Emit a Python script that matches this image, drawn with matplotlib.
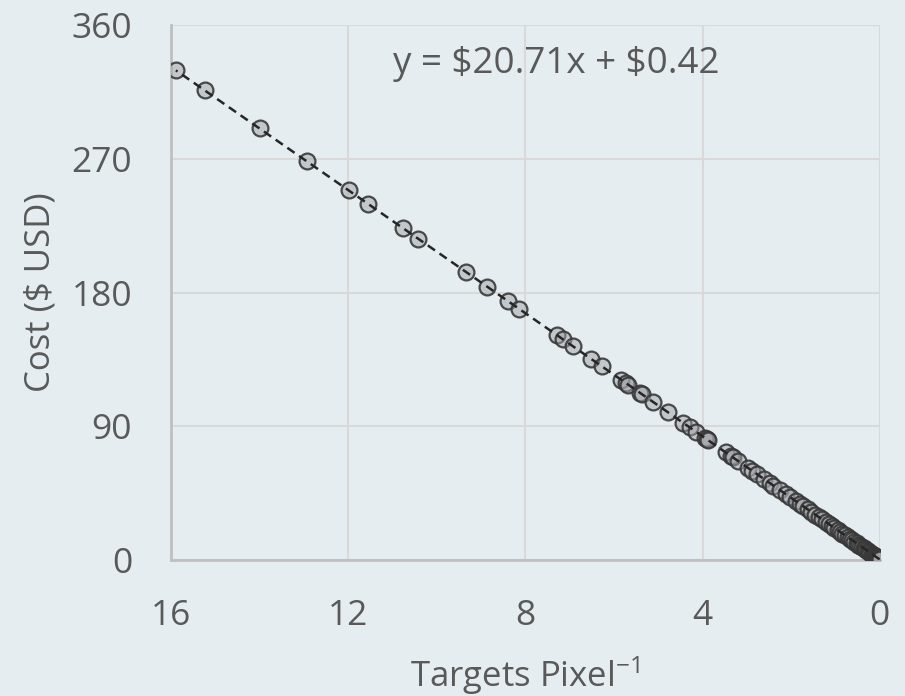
import numpy as np
import matplotlib.pyplot as plt

# targets per pixel vs. cost
targets_px = [15.89, 15.24, 14.0, 12.94, 11.99, 11.55, 10.76, 10.42, 9.35, 8.86,
              8.39, 8.14, 7.28, 7.16, 6.92, 6.51, 6.28, 5.83, 5.72, 5.68,
              5.42, 5.36, 5.12, 4.78, 4.44, 4.29, 4.15, 3.95, 3.90, 3.88,
              3.48, 3.36, 3.31, 3.20, 2.97, 2.88, 2.78, 2.62, 2.48, 2.40,
              2.24, 2.12, 2.03, 1.90, 1.80, 1.73, 1.62, 1.55, 1.45, 1.38,
              1.30, 1.22, 1.15, 1.08, 1.02, 0.95, 0.89, 0.84, 0.78, 0.72,
              0.67, 0.62, 0.57, 0.52, 0.48, 0.44, 0.40, 0.36, 0.33, 0.30,
              0.27, 0.24, 0.21, 0.18, 0.16, 0.14, 0.12, 0.10, 0.08, 0.07,
              0.06, 0.05, 0.04, 0.03, 0.02, 0.015, 0.01, 0.005, 0.0]
cost_usd = [329.5, 316.0, 290.4, 268.4, 248.7, 239.6, 223.3, 216.2, 194.1, 183.9,
            174.2, 169.0, 151.2, 148.7, 143.7, 135.2, 130.5, 121.2, 118.9, 118.1,
            112.7, 111.4, 106.5, 99.4, 92.4, 89.3, 86.4, 82.2, 81.2, 80.8,
            72.5, 70.0, 69.0, 66.7, 61.9, 60.1, 58.0, 54.7, 51.8, 50.1,
            46.8, 44.3, 42.5, 39.8, 37.7, 36.2, 34.0, 32.5, 30.4, 29.0,
            27.3, 25.7, 24.2, 22.8, 21.5, 20.1, 18.9, 17.8, 16.6, 15.3,
            14.3, 13.3, 12.2, 11.2, 10.4, 9.5, 8.7, 7.9, 7.3, 6.6,
            6.0, 5.4, 4.8, 4.1, 3.7, 3.3, 2.9, 2.5, 2.1, 1.9,
            1.7, 1.5, 1.3, 1.0, 0.8, 0.7, 0.6, 0.5, 0.4]

slope, intercept = 20.71, 0.42
x_ticks = [16, 12, 8, 4, 0]
y_ticks = [0, 90, 180, 270, 360]

bg = "#e5edf1"
txt = "#595959"
plt.rcParams['font.family'] = ['Open Sans', 'DejaVu Sans']
plt.rcParams['mathtext.fontset'] = 'custom'
plt.rcParams['mathtext.rm'] = 'Open Sans'
plt.rcParams['mathtext.it'] = 'Open Sans'

fig = plt.figure(figsize=(9.05, 6.96), dpi=100, facecolor=bg)
ax = fig.add_axes([0.189, 0.1954, 0.783, 0.7686], facecolor=bg)

ax.scatter(targets_px, cost_usd, s=130, facecolors=(0.63, 0.64, 0.655, 0.5),
           edgecolors=(0.22, 0.22, 0.22, 0.9), linewidths=1.6, zorder=3)

# linear trend line
xs = np.array([min(targets_px), max(targets_px)])
ax.plot(xs, slope * xs + intercept, color="#262626", lw=1.8,
        dashes=(3.5, 2.2), zorder=4)

ax.set_xlim(16, 0)
ax.set_ylim(0, 360)
ax.set_xticks(x_ticks)
ax.set_yticks(y_ticks)
ax.tick_params(length=0, labelsize=25.5, labelcolor=txt)
ax.tick_params(axis='x', pad=28)
ax.tick_params(axis='y', pad=28)
ax.grid(True, color="#d9d9d9", lw=1.5)
ax.set_axisbelow(True)

for s in ['top', 'right']:
    ax.spines[s].set_visible(False)
for s in ['left', 'bottom']:
    ax.spines[s].set_color("#bfbfbf")
    ax.spines[s].set_linewidth(2)

ax.set_xlabel("Targets Pixel$^{\\mathrm{-1}}$", fontsize=25, color=txt, labelpad=15)
ax.set_ylabel("Cost (\\$ USD)", fontsize=25, color=txt, labelpad=10)

ax.text(0.544, 0.928, f"y = \\${slope:.2f}x + \\${intercept:.2f}", transform=ax.transAxes,
        ha='center', va='center', fontsize=26.5, color=txt)

fig.savefig("out.png", dpi=100, facecolor=bg)
